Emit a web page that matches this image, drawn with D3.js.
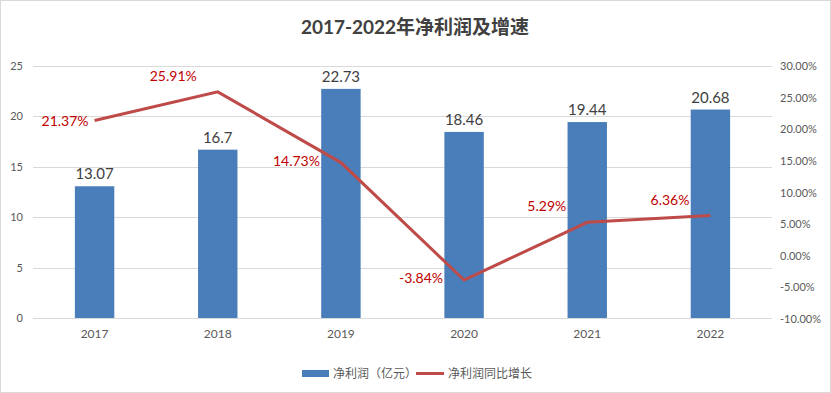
<!DOCTYPE html>
<html>
<head>
<meta charset="utf-8">
<title>2017-2022年净利润及增速</title>
<style type="text/css">
body {margin: 0; background: #fff;}
svg {display: block;}
.axis .domain {display: none;}
.axis line {display: none;}
</style>
</head>
<body>
<svg width="831" height="393"></svg>
<script src="https://d3js.org/d3.v7.min.js"></script>
<script>
var years = ["2017", "2018", "2019", "2020", "2021", "2022"];
var profit = [13.07, 16.7, 22.73, 18.46, 19.44, 20.68];
var growth = [21.37, 25.91, 14.73, -3.84, 5.29, 6.36];
var leftTicks = [0, 5, 10, 15, 20, 25];
var rightTicks = [-10, -5, 0, 5, 10, 15, 20, 25, 30];
var seriesNames = ["净利润（亿元）", "净利润同比增长"];
// where each growth label sits relative to its point
var labelPlace = ["left", "aboveLeft", "farLeft", "farLeft", "aboveLeft", "aboveLeft"];

var latin = "Lato, 'Noto Sans CJK SC', sans-serif";
var svg = d3.select("svg");

svg.append("rect")
    .attr("x", 0.5).attr("y", 0.5)
    .attr("width", 830).attr("height", 392)
    .attr("fill", "#fff")
    .attr("stroke", "#d9d9d9");

svg.append("text")
    .attr("x", 415)
    .attr("y", 34)
    .attr("text-anchor", "middle")
    .attr("font-family", "Lato, 'Noto Sans CJK SC', sans-serif")
    .attr("font-weight", "bold")
    .attr("font-size", 19)
    .attr("fill", "#404040")
    .text("2017-2022年净利润及增速");

var plotL = 33, plotR = 772, plotT = 66, plotB = 318;

var x = d3.scaleBand().domain(years).range([plotL, plotR]).paddingInner(0.68).paddingOuter(0.34);
var xc = function(d) { return x(d) + x.bandwidth() / 2; };
var y = d3.scaleLinear().domain([0, 25]).range([plotB, plotT]);
var y2 = d3.scaleLinear().domain([-10, 30]).range([plotB + 1, plotT]);

// gridlines
svg.append("g")
    .selectAll("line")
    .data(leftTicks)
    .enter().append("line")
    .attr("x1", plotL).attr("x2", plotR)
    .attr("y1", function(d) { return Math.round(y(d)) + 0.5; })
    .attr("y2", function(d) { return Math.round(y(d)) + 0.5; })
    .attr("stroke", "#d9d9d9")
    .attr("stroke-width", 1);

// left axis
svg.append("g")
    .attr("class", "axis")
    .attr("transform", "translate(" + 28 + ",0)")
    .call(d3.axisLeft(y).tickValues(leftTicks).tickSize(0).tickPadding(5))
    .selectAll("text")
    .attr("font-family", latin)
    .attr("font-size", 11)
    .attr("fill", "#595959");

// right axis
svg.append("g")
    .attr("class", "axis")
    .attr("transform", "translate(" + 775 + ",0)")
    .call(d3.axisRight(y2).tickValues(rightTicks).tickSize(0).tickPadding(5)
        .tickFormat(function(d) { return d.toFixed(2) + "%"; }))
    .selectAll("text")
    .attr("font-family", latin)
    .attr("font-size", 11)
    .attr("fill", "#595959");

// x axis
svg.append("g")
    .attr("class", "axis")
    .attr("transform", "translate(0," + (plotB + 8) + ")")
    .call(d3.axisBottom(x).tickSize(0).tickPadding(3))
    .selectAll("text")
    .attr("font-family", latin)
    .attr("font-size", 12)
    .attr("fill", "#595959");

// bars
svg.append("g")
    .selectAll("rect")
    .data(years)
    .enter().append("rect")
    .attr("x", function(d) { return x(d); })
    .attr("y", function(d, i) { return y(profit[i]); })
    .attr("width", x.bandwidth())
    .attr("height", function(d, i) { return y(0) - y(profit[i]); })
    .attr("fill", "#4a7ebb");

svg.append("g")
    .selectAll("text")
    .data(years)
    .enter().append("text")
    .attr("x", xc)
    .attr("y", function(d, i) { return y(profit[i]) - 7; })
    .attr("text-anchor", "middle")
    .attr("font-family", latin)
    .attr("font-size", 15)
    .attr("fill", "#404040")
    .text(function(d, i) { return profit[i]; });

// growth line
var line = d3.line()
    .x(function(d, i) { return xc(years[i]); })
    .y(function(d) { return y2(d); });

svg.append("path")
    .datum(growth)
    .attr("d", line)
    .attr("fill", "none")
    .attr("stroke", "#be4b48")
    .attr("stroke-width", 3);

var dxFor = {left: 6, farLeft: 21, aboveLeft: 21};
var dyFor = {left: 5, farLeft: 3, aboveLeft: -11};
svg.append("g")
    .selectAll("text")
    .data(growth)
    .enter().append("text")
    .attr("x", function(d, i) { return xc(years[i]) - dxFor[labelPlace[i]]; })
    .attr("y", function(d, i) { return y2(d) + dyFor[labelPlace[i]]; })
    .attr("text-anchor", "end")
    .attr("font-family", latin)
    .attr("font-size", 14)
    .attr("fill", "#c00000")
    .text(function(d) { return d.toFixed(2) + "%"; });

// legend
var legend = svg.append("g")
    .attr("font-family", "'Noto Sans CJK SC', sans-serif")
    .attr("font-size", 12)
    .attr("fill", "#595959");
legend.append("rect")
    .attr("x", 302).attr("y", 370)
    .attr("width", 27).attr("height", 7)
    .attr("fill", "#4a7ebb");
legend.append("text")
    .attr("x", 333).attr("y", 378)
    .text(seriesNames[0]);
legend.append("line")
    .attr("x1", 416).attr("x2", 444)
    .attr("y1", 373.5).attr("y2", 373.5)
    .attr("stroke", "#be4b48")
    .attr("stroke-width", 3);
legend.append("text")
    .attr("x", 448).attr("y", 378)
    .text(seriesNames[1]);
</script>
</body>
</html>
